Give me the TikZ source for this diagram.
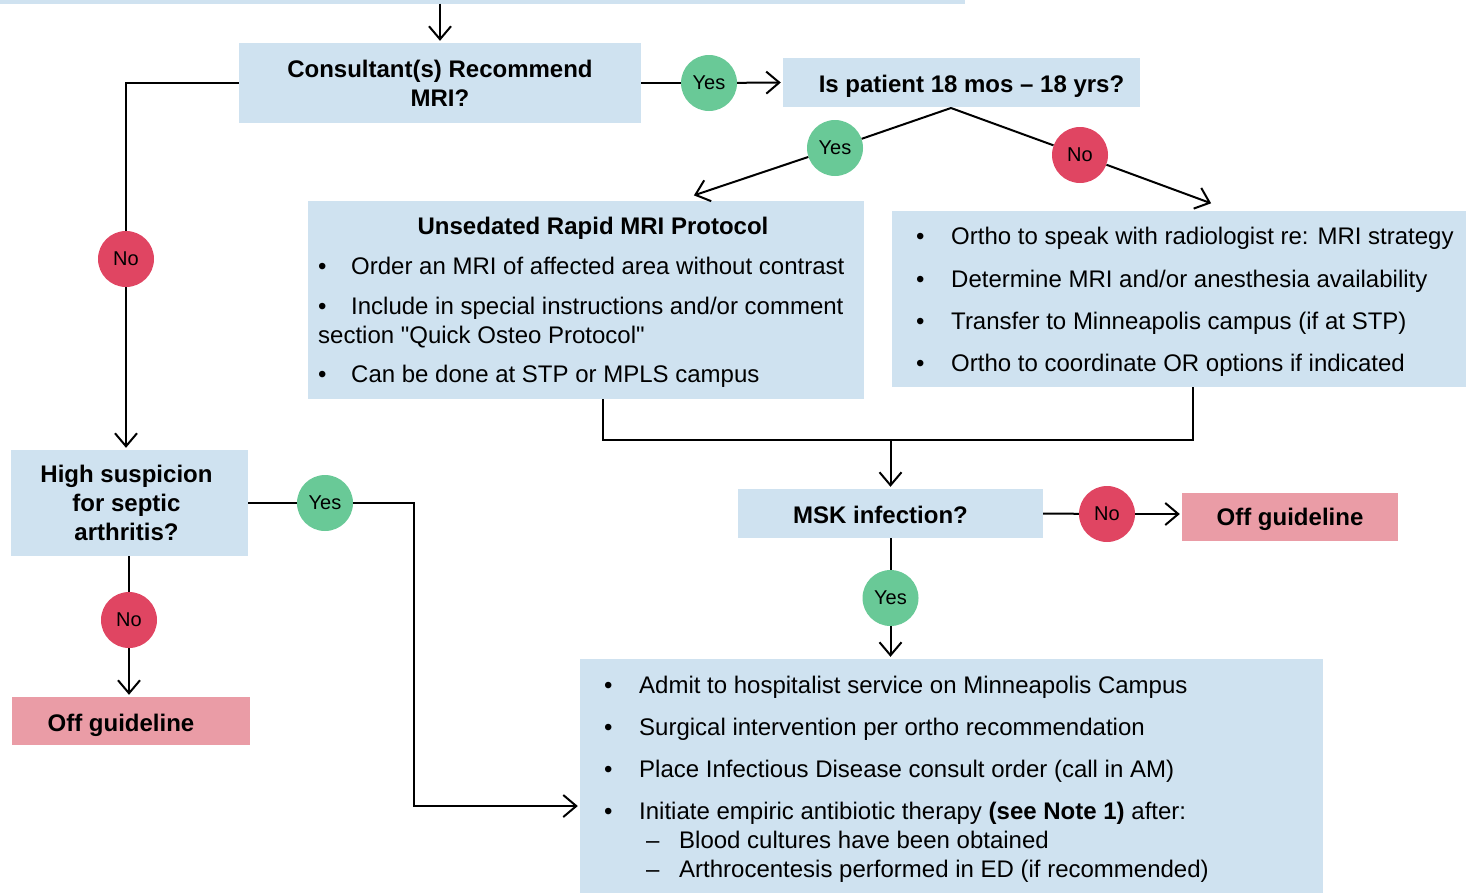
\documentclass[tikz,border=0pt]{standalone}
\usepackage{fontspec}
\setmainfont{Liberation Sans}
\newfontfamily\plainquote{Liberation Sans}
\usetikzlibrary{arrows.meta}

\definecolor{boxblue}{RGB}{207,226,240}
\definecolor{yesgreen}{RGB}{105,201,151}
\definecolor{nored}{RGB}{224,69,98}
\definecolor{offpink}{RGB}{234,156,166}

\newcommand{\itembul}[1][31pt]{\makebox[#1][l]{•}}
\newcommand{\itemdash}{\makebox[33pt][l]{–}}
\newcommand{\sq}{{\plainquote"}}

\tikzset{
  qbox/.style={fill=boxblue, inner sep=0pt, align=center, font=\bfseries\fontsize{24}{29}\selectfont},
  infobox/.style={fill=boxblue, inner sep=0pt},
  offbox/.style={fill=offpink, inner sep=0pt, font=\bfseries\fontsize{24}{29}\selectfont},
  yesdot/.style={circle, fill=yesgreen, minimum size=56pt, inner sep=0pt, font=\fontsize{20}{24}\selectfont},
  nodot/.style={circle, fill=nored, minimum size=56pt, inner sep=0pt, font=\fontsize{20}{24}\selectfont},
  item/.style={anchor=base west, inner sep=0pt, font=\fontsize{24}{29}\selectfont},
  line/.style={line width=2pt},
  arr/.style={line width=2pt, -{Straight Barb[length=13pt,width=22pt]}, shorten >=2pt},
}

\begin{document}
\begin{tikzpicture}[x=1pt, y=-1pt]
\useasboundingbox (0,0) rectangle (1466,892);

% Question boxes
\node[qbox, minimum width=965pt, minimum height=4pt] (prev) at (482.5,1.5) {};
\node[qbox, minimum width=402pt, minimum height=80pt] (cons) at (440,83) {Consultant(s) Recommend\\MRI?};
\node[qbox, minimum width=357pt, minimum height=49pt, text height=25pt, text depth=5pt] (age) at (961.5,82.5) {\hspace*{20pt}Is patient 18 mos – 18 yrs?};
\node[qbox, minimum width=237pt, minimum height=106pt] (high) at (129.5,503) {\hspace*{-6pt}High suspicion\\\hspace*{-6pt}for septic\\\hspace*{-6pt}arthritis?};
\node[qbox, minimum width=305pt, minimum height=49pt, text height=25pt, text depth=5pt] (msk) at (890.5,513.5) {\hspace*{-20pt}MSK infection?};

% Off guideline boxes
\node[offbox, minimum width=238pt, minimum height=48pt, text height=26pt, text depth=5pt] (off1) at (131,721) {\hspace*{-20pt}Off guideline};
\node[offbox, minimum width=216pt, minimum height=48pt, text height=22pt, text depth=5pt] (off2) at (1290,517) {Off guideline};

% Unsedated rapid MRI protocol
\node[infobox, minimum width=556pt, minimum height=198pt] (uns) at (586,300) {};
\node[qbox, fill=none, anchor=base] (unstitle) at (593,234) {Unsedated Rapid MRI Protocol};
\node[item] (u1) at (318,274) {\itembul[33pt]Order an MRI of affected area without contrast};
\node[item] (u2) at (318,314) {\itembul[33pt]Include in special instructions and/or comment};
\node[item] (u3) at (318,343) {section \sq Quick Osteo Protocol\sq};
\node[item] (u4) at (318,382) {\itembul[33pt]Can be done at STP or MPLS campus};

% Ortho / radiology box
\node[infobox, minimum width=574pt, minimum height=176pt] (orth) at (1179,299) {};
\node[item] (o1) at (916,244) {\itembul[35pt]Ortho to speak with radiologist re: MRI strategy};
\node[item] (o2) at (916,287) {\itembul[35pt]Determine MRI and/or anesthesia availability};
\node[item] (o3) at (916,329) {\itembul[35pt]Transfer to Minneapolis campus (if at STP)};
\node[item] (o4) at (916,371) {\itembul[35pt]Ortho to coordinate OR options if indicated};

% Admission box
\node[infobox, minimum width=743pt, minimum height=234pt] (care) at (951.5,776) {};
\node[item] (c1) at (604,693) {\itembul[35pt]Admit to hospitalist service on Minneapolis Campus};
\node[item] (c2) at (604,735) {\itembul[35pt]Surgical intervention per ortho recommendation};
\node[item] (c3) at (604,777) {\itembul[35pt]Place Infectious Disease consult order (call in AM)};
\node[item] (c4) at (604,819) {\itembul[35pt]Initiate empiric antibiotic therapy \textbf{(see Note 1)} after:};
\node[item] (c5) at (646,848) {\itemdash Blood cultures have been obtained};
\node[item] (c6) at (646,877) {\itemdash Arthrocentesis performed in ED (if recommended)};

% Yes / No dots
\node[yesdot] (y1) at (709,83) {Yes};
\node[yesdot] (y2) at (835,148) {Yes};
\node[nodot] (n2) at (1080,155) {No};
\node[nodot] (n1) at (126,259) {No};
\node[yesdot] (y4) at (325,503) {Yes};
\node[nodot] (n4) at (129,620) {No};
\node[nodot] (n3) at (1107,514) {No};
\node[yesdot] (y3) at (890.5,598) {Yes};

\coordinate (fork) at (951,108);
\coordinate (ytip) at (692,196);
\coordinate (ntip) at (1213,204);
\coordinate (bend) at (414,806);

% Connectors
\draw[arr] (prev.south -| cons.north) -- (cons.north);
\draw[line] (cons.east) -- (y1);
\draw[arr] (y1) -- (age.west);
\draw[line] (fork) -- (y2);
\draw[arr] (y2) -- (ytip);
\draw[line] (fork) -- (n2);
\draw[arr] (n2) -- (ntip);
\draw[line] ([xshift=17pt]uns.south) -- ++(0,41) coordinate (mid) -| ([xshift=14pt]orth.south);
\draw[arr] (msk.north |- mid) -- (msk.north);
\draw[line] (msk.east) -- (n3);
\draw[arr] (n3) -- (n3 -| off2.west);
\draw[line] (msk) -- (y3);
\draw[arr] (y3) -- (y3 |- care.north);
\draw[line] (cons.west) -| (n1);
\draw[arr] (n1) -- (n1 |- high.north);
\draw[line] (high.east) -- (y4);
\draw[arr] (y4) -| (bend) -- (bend -| care.west);
\draw[line] (n4 |- high.south) -- (n4);
\draw[arr] (n4) -- (n4 |- off1.north);
\end{tikzpicture}
\end{document}
